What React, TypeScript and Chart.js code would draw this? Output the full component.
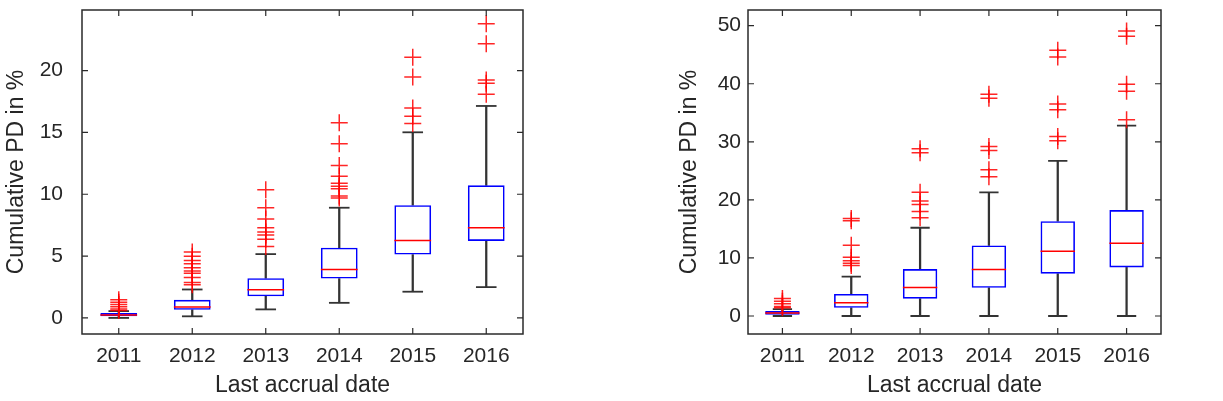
import React, { useEffect, useRef } from 'react';
import { Chart, registerables } from 'chart.js';

Chart.register(...registerables);

// ---------- data ----------
const years = ['2011', '2012', '2013', '2014', '2015', '2016'];

// left panel
const leftYTicks = [0, 5, 10, 15, 20];
const leftLow = [0.0, 0.13, 0.69, 1.22, 2.12, 2.49];
const leftQ1 = [0.13, 0.66, 1.75, 3.18, 5.12, 6.23];
const leftMedian = [0.24, 0.88, 2.28, 3.92, 6.26, 7.29];
const leftQ3 = [0.4, 1.46, 3.21, 5.68, 9.12, 10.72];
const leftHigh = [0.55, 2.3, 5.16, 8.91, 15.01, 17.14];
const leftOut2011 = [1.46, 1.27, 1.09, 0.9, 0.72, 0.6];
const leftOut2012 = [5.33, 4.99, 4.64, 4.38, 4.06, 3.79, 3.61, 3.26, 2.86, 2.68];
const leftOut2013 = [10.37, 8.91, 7.99, 7.3, 6.95, 6.7, 6.36, 5.78];
const leftOut2014 = [15.78, 14.08, 12.32, 11.46, 10.9, 10.65, 10.45, 9.85, 9.7];
const leftOut2015 = [21.08, 19.49, 16.98, 16.31, 15.73];
const leftOut2016 = [23.79, 22.17, 19.23, 18.97, 18.09];

// right panel
const rightYTicks = [0, 10, 20, 30, 40, 50];
const rightLow = [0, 0, 0, 0, 0, 0];
const rightQ1 = [0.2, 1.42, 2.99, 4.86, 7.29, 8.37];
const rightMedian = [0.5, 2.3, 4.92, 8.02, 11.13, 12.54];
const rightQ3 = [0.85, 3.79, 8.08, 12.15, 16.33, 18.25];
const rightHigh = [1.2, 6.78, 15.2, 21.3, 26.7, 32.8];
const rightOut2011 = [3.0, 2.54, 2.1, 1.64, 1.4];
const rightOut2012 = [16.8, 16.4, 12.2, 10.1, 9.5, 9.1, 8.7];
const rightOut2013 = [28.8, 28.1, 21.3, 19.8, 19.2, 18.0, 16.9];
const rightOut2014 = [38.2, 37.5, 29.2, 28.5, 25.2, 24.0];
const rightOut2015 = [45.76, 44.6, 36.5, 35.5, 30.9, 30.2];
const rightOut2016 = [49.1, 48.2, 39.9, 38.7, 33.8];

const yTitle = 'Cumulative PD in %';
const xTitle = 'Last accrual date';

// ---------- styling ----------
const FONT = '"Liberation Sans", Arial, Helvetica, sans-serif';
const TEXT = '#262626';
const AXIS = '#2a2a2a';
const BLUE = '#0000ff';
const RED = 'rgba(255,0,0,0.85)';
const WHISKER = '#333333';

type Panel = {
  low: number[];
  q1: number[];
  median: number[];
  q3: number[];
  high: number[];
  outliers: number[][];
  yMin: number;
  yMax: number;
  yTicks: number[];
};

const leftPanel: Panel = {
  low: leftLow, q1: leftQ1, median: leftMedian, q3: leftQ3, high: leftHigh,
  outliers: [leftOut2011, leftOut2012, leftOut2013, leftOut2014, leftOut2015, leftOut2016],
  yMin: -1.3, yMax: 24.9, yTicks: leftYTicks,
};
const rightPanel: Panel = {
  low: rightLow, q1: rightQ1, median: rightMedian, q3: rightQ3, high: rightHigh,
  outliers: [rightOut2011, rightOut2012, rightOut2013, rightOut2014, rightOut2015, rightOut2016],
  yMin: -3.1, yMax: 52.7, yTicks: rightYTicks,
};

const framePlugin = {
  id: 'matlabFrame',
  afterDatasetsDraw(chart: any) {
    const { ctx, chartArea, scales } = chart;
    const { left, right, top, bottom } = chartArea;
    const x = scales.x;
    const y = scales.y;
    const tl = 6;
    ctx.save();
    ctx.strokeStyle = AXIS;
    ctx.lineWidth = 1.5;
    ctx.strokeRect(left, top, right - left, bottom - top);
    ctx.lineWidth = 1.2;
    ctx.beginPath();
    x.ticks.forEach((_: any, i: number) => {
      const px = x.getPixelForTick(i);
      ctx.moveTo(px, bottom); ctx.lineTo(px, bottom - tl);
      ctx.moveTo(px, top); ctx.lineTo(px, top + tl);
    });
    y.ticks.forEach((_: any, i: number) => {
      const py = y.getPixelForTick(i);
      ctx.moveTo(left, py); ctx.lineTo(left + tl, py);
      ctx.moveTo(right, py); ctx.lineTo(right - tl, py);
    });
    ctx.stroke();
    ctx.restore();
  },
};

type Layout = {
  canvasLeft: number;
  canvasWidth: number;
  padLeft: number;
  padRight: number;
  yAxisWidth: number;
  yTickPad: number;
};

const zeroPad = (s: any) => {
  s.paddingTop = 0;
  s.paddingBottom = 0;
  s.paddingLeft = 0;
  s.paddingRight = 0;
};

function BoxChart({ panel, layout }: { panel: Panel; layout: Layout }) {
  const ref = useRef<HTMLCanvasElement | null>(null);
  useEffect(() => {
    if (!ref.current) return;
    const catW = (c: any) => {
      const xs = c.chart.scales.x;
      return xs ? xs.width / years.length : 70;
    };
    const outlierPoints = panel.outliers.flatMap((arr, i) => arr.map((v) => ({ x: years[i], y: v })));
    const chart = new Chart(ref.current, {
      type: 'bar',
      data: {
        labels: years,
        datasets: [
          {
            type: 'line',
            label: 'outliers',
            data: outlierPoints as any,
            showLine: false,
            pointStyle: 'cross',
            pointRadius: 8.5,
            pointBorderWidth: 1.5,
            pointBorderColor: RED,
            pointBackgroundColor: RED,
            borderColor: RED,
          },
          {
            type: 'line',
            label: 'median',
            data: panel.median,
            showLine: false,
            pointStyle: 'line',
            pointRadius: (c: any) => catW(c) * 0.25,
            pointBorderWidth: 1.5,
            pointBorderColor: '#ff0000',
            borderColor: '#ff0000',
          },
          {
            type: 'line',
            label: 'upper cap',
            data: panel.high,
            showLine: false,
            pointStyle: 'line',
            pointRadius: (c: any) => catW(c) * 0.14,
            pointBorderWidth: 1.8,
            pointBorderColor: WHISKER,
            borderColor: WHISKER,
          },
          {
            type: 'line',
            label: 'lower cap',
            data: panel.low,
            showLine: false,
            pointStyle: 'line',
            pointRadius: (c: any) => catW(c) * 0.14,
            pointBorderWidth: 1.8,
            pointBorderColor: WHISKER,
            borderColor: WHISKER,
          },
          {
            type: 'bar',
            label: 'box',
            data: panel.q1.map((v, i) => [v, panel.q3[i]]) as any,
            grouped: false,
            barPercentage: 0.5,
            categoryPercentage: 1,
            backgroundColor: 'rgba(0,0,0,0)',
            borderColor: BLUE,
            borderWidth: 1.6,
            borderSkipped: false,
          },
          {
            type: 'bar',
            label: 'upper whisker',
            data: panel.q3.map((v, i) => [v, panel.high[i]]) as any,
            grouped: false,
            barThickness: 1.6,
            backgroundColor: WHISKER,
            borderWidth: 0,
          },
          {
            type: 'bar',
            label: 'lower whisker',
            data: panel.low.map((v, i) => [v, panel.q1[i]]) as any,
            grouped: false,
            barThickness: 1.6,
            backgroundColor: WHISKER,
            borderWidth: 0,
          },
        ],
      },
      options: {
        responsive: false,
        animation: false,
        devicePixelRatio: 1,
        events: [],
        layout: { padding: { left: layout.padLeft, right: layout.padRight, top: 5, bottom: 0 } },
        plugins: { legend: { display: false }, tooltip: { enabled: false } },
        scales: {
          x: {
            type: 'category',
            offset: true,
            grid: { display: false, drawTicks: false },
            border: { display: false },
            ticks: { font: { family: FONT, size: 21 }, color: TEXT, padding: 10, maxRotation: 0, autoSkip: false },
            title: { display: true, text: xTitle, font: { family: FONT, size: 23 }, color: TEXT, padding: { top: 0, bottom: 2 } },
            afterFit: (s: any) => { s.height = 67; zeroPad(s); },
          },
          y: {
            type: 'linear',
            min: panel.yMin,
            max: panel.yMax,
            grid: { display: false, drawTicks: false },
            border: { display: false },
            afterBuildTicks: (s: any) => { s.ticks = panel.yTicks.map((v) => ({ value: v })); },
            ticks: { font: { family: FONT, size: 21 }, color: TEXT, padding: layout.yTickPad },
            title: { display: true, text: yTitle, font: { family: FONT, size: 23 }, color: TEXT, padding: { top: 3, bottom: 0 } },
            afterFit: (s: any) => { s.width = layout.yAxisWidth; zeroPad(s); },
          },
        },
      },
      plugins: [framePlugin],
    } as any);
    return () => chart.destroy();
  }, [panel, layout]);
  return (
    <canvas
      ref={ref}
      width={layout.canvasWidth}
      height={401}
      style={{ position: 'absolute', left: layout.canvasLeft, top: 0, width: layout.canvasWidth, height: 401 }}
    />
  );
}

const leftLayout: Layout = { canvasLeft: 0, canvasWidth: 600, padLeft: 0, padRight: 77, yAxisWidth: 82, yTickPad: 19 };
const rightLayout: Layout = { canvasLeft: 600, canvasWidth: 623, padLeft: 73, padRight: 62, yAxisWidth: 75, yTickPad: 7 };

export default function App() {
  return (
    <div style={{ position: 'absolute', left: 0, top: 0, width: 1223, height: 401, background: '#fff', overflow: 'hidden' }}>
      <BoxChart panel={leftPanel} layout={leftLayout} />
      <BoxChart panel={rightPanel} layout={rightLayout} />
    </div>
  );
}
